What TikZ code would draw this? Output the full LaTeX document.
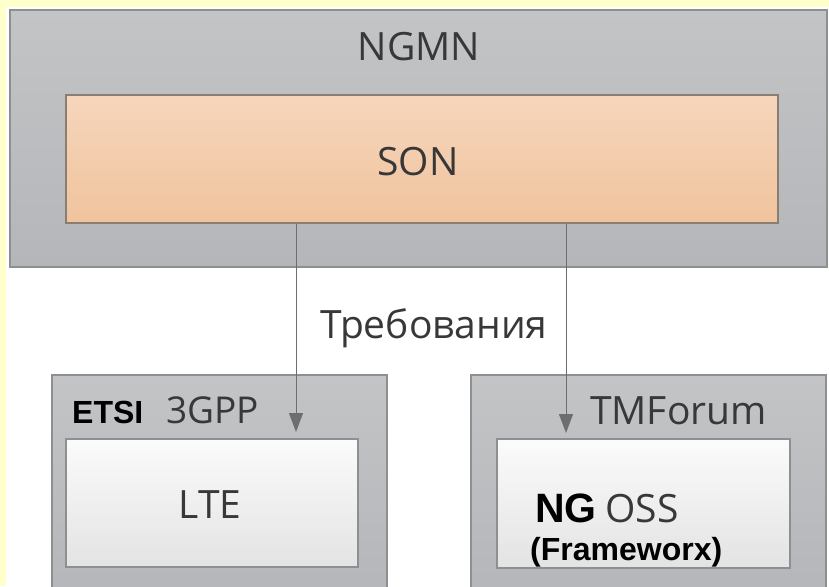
\documentclass[tikz,border=0pt]{standalone}
\usepackage{fontspec}
\setmainfont{Open Sans}
\newfontfamily\arialfont{Liberation Sans}
\usetikzlibrary{arrows.meta}
\definecolor{bgyellow}{HTML}{FFFFCC}
\definecolor{boxline}{HTML}{8E8F91}
\definecolor{graytop}{HTML}{C3C4C6}
\definecolor{graybot}{HTML}{B4B6B9}
\definecolor{sontop}{HTML}{F6D6BC}
\definecolor{sonbot}{HTML}{F0C39D}
\definecolor{sonline}{HTML}{8A7D72}
\definecolor{whitetop}{HTML}{FBFBFB}
\definecolor{whitebot}{HTML}{E3E3E3}
\definecolor{textgray}{HTML}{383838}
\definecolor{arrowgray}{HTML}{6E6E6E}
\tikzset{
  graybox/.style = {top color=graytop, bottom color=graybot, draw=boxline},
  sonbox/.style = {top color=sontop, bottom color=sonbot, draw=sonline},
  whitebox/.style = {top color=whitetop, bottom color=whitebot, draw=boxline},
  boldlabel/.style = {text=black, font=\arialfont\bfseries\fontsize{#1}{#1}\selectfont}
}
\begin{document}
\begin{tikzpicture}[x=1pt,y=-1pt]
\useasboundingbox (0,0) rectangle (829,586);
\clip (0,0) rectangle (829,586);
\fill[bgyellow] (0,0) rectangle (829,586);
\fill[white] (6,7) rectangle (829,586);
\begin{scope}[every node/.style = {rectangle, inner sep=0pt, line width=1.2pt}]
\node[graybox, minimum width=817pt, minimum height=257pt] (NGMN) at (418.5, 138.5) {};
\node[sonbox, minimum width=712pt, minimum height=128pt] (SON) at (422, 159) {};
\node[graybox, minimum width=335pt, minimum height=221pt] (3GPP) at (219.5, 485.5) {};
\node[graybox, minimum width=355pt, minimum height=221pt] (TMF) at (648.5, 485.5) {};
\node[whitebox, minimum width=292pt, minimum height=128pt] (LTE) at (212, 503) {};
\node[whitebox, minimum width=293pt, minimum height=129pt] (OSS) at (643.5, 503.5) {};
\end{scope}
\begin{scope}[every node/.style = {inner sep=0pt, text=textgray, font=\fontsize{39}{39}\selectfont}]
\node[anchor=base] (NGMNt) at (419, 60) {NGMN};
\node[anchor=base] (SONt) at (418, 175) {SON};
\node[anchor=base] (Req) at (434, 338) {Требования};
\node[anchor=base west, font=\fontsize{37}{37}\selectfont] (3GPPt) at (166, 423) {3GPP};
\node[anchor=base west] (TMFt) at (590, 424) {TMForum};
\node[anchor=base] (LTEt) at (210, 518) {LTE};
\node[anchor=base west] (OSSt) at (605, 522) {OSS};
\node[anchor=base west, boldlabel=32] (ETSI) at (72, 423) {ETSI};
\node[anchor=base west, boldlabel=41] (NG) at (535, 522) {NG};
\node[anchor=base west, boldlabel=32] (Fw) at (530, 560) {(Frameworx)};
\end{scope}
\coordinate (R1) at (296, 432);
\coordinate (R2) at (566, 433);
\begin{scope}[every edge/.style = {draw=arrowgray, line width=1pt, -{Triangle[length=19pt, width=14pt]}}]
\path (SON.south -| R1) edge (R1);
\path (SON.south -| R2) edge (R2);
\end{scope}
\end{tikzpicture}
\end{document}
